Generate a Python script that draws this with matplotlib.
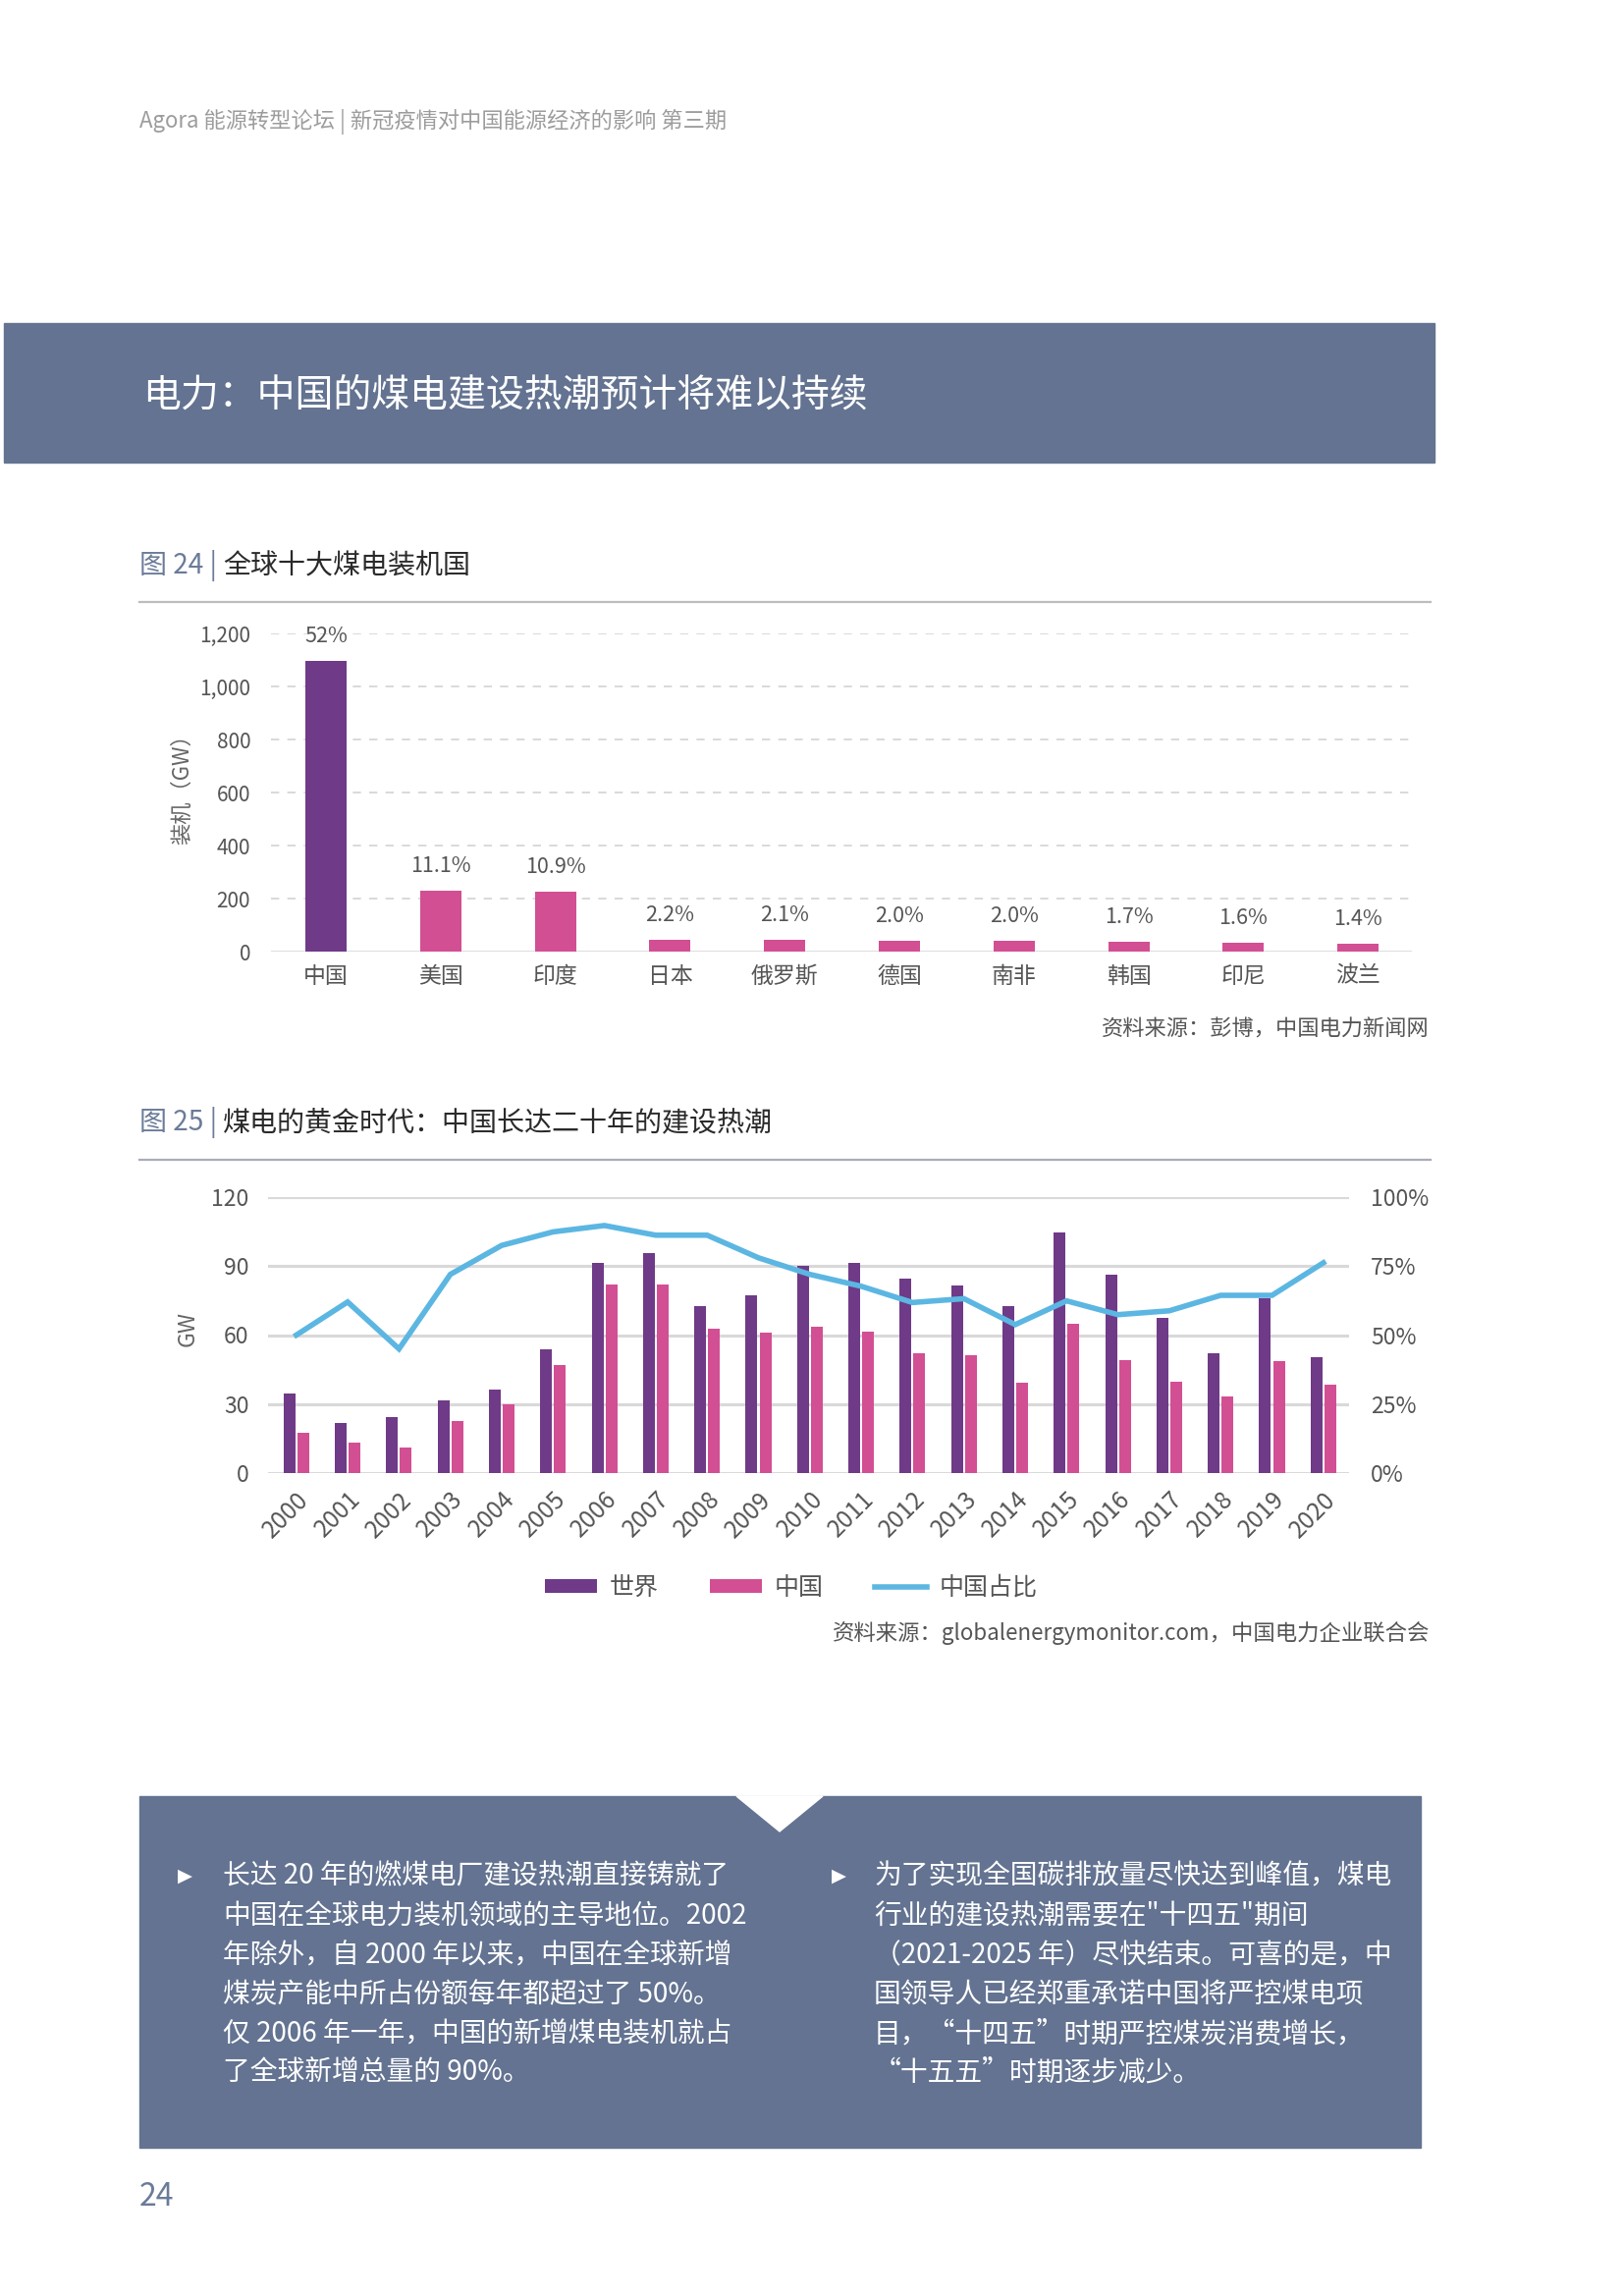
import matplotlib
matplotlib.use("Agg")
import matplotlib.pyplot as plt
import numpy as np
from matplotlib.patches import Rectangle, Polygon, Patch
from matplotlib.lines import Line2D

plt.rcParams['font.family'] = ['Noto Sans CJK SC', 'DejaVu Sans']

# ---- data ----
countries = ["中国", "美国", "印度", "日本", "俄罗斯", "德国", "南非", "韩国", "印尼", "波兰"]
capacity_gw = [1095, 231, 226, 46, 43, 42, 42, 36, 35, 31]
share_labels = ["52%", "11.1%", "10.9%", "2.2%", "2.1%", "2.0%", "2.0%", "1.7%", "1.6%", "1.4%"]

years = [str(y) for y in range(2000, 2021)]
world_gw = [34.5, 21.7, 24.5, 31.5, 36.2, 53.9, 91.5, 95.6, 72.7, 77.5, 89.9,
            91.5, 84.4, 81.5, 72.7, 104.5, 86.2, 67.4, 52.0, 76.2, 50.3]
china_gw = [17.4, 13.3, 11.0, 22.7, 29.9, 46.9, 82.2, 82.2, 62.7, 60.9, 63.8,
            61.6, 52.0, 51.4, 39.2, 65.1, 49.2, 39.6, 33.2, 48.5, 38.5]
china_share = [50, 62, 45, 72, 82.5, 87.4, 89.7, 86.2, 86.2, 78, 72,
               67.7, 61.8, 63.2, 53.8, 62.4, 57.4, 58.8, 64.4, 64.4, 76.2]

left_lines = ["长达 20 年的燃煤电厂建设热潮直接铸就了",
              "中国在全球电力装机领域的主导地位。2002",
              "年除外，自 2000 年以来，中国在全球新增",
              "煤炭产能中所占份额每年都超过了 50%。",
              "仅 2006 年一年，中国的新增煤电装机就占",
              "了全球新增总量的 90%。"]
right_lines = ["为了实现全国碳排放量尽快达到峰值，煤电",
               "行业的建设热潮需要在\"十四五\"期间",
               "（2021-2025 年）尽快结束。可喜的是，中",
               "国领导人已经郑重承诺中国将严控煤电项",
               "目，“十四五”时期严控煤炭消费增长，",
               "“十五五”时期逐步减少。"]

# colours
purple = "#6f3a87"
pink = "#d24f94"
blue = "#5cb6e2"
slate = "#637391"
tick_col = "#555555"

W, H = 1653, 2338
fig = plt.figure(figsize=(W / 100, H / 100), dpi=100)


def fx(x):
    return x / W


def fy(y):
    return 1 - y / H


def rect(x0, y0, x1, y1):
    return [x0 / W, 1 - y1 / H, (x1 - x0) / W, (y1 - y0) / H]


# ---- header and banner ----
fig.text(fx(142), fy(124), "Agora 能源转型论坛 | 新冠疫情对中国能源经济的影响 第三期",
         fontsize=16, color="#9c9c9c", va="center", ha="left")
fig.patches.append(Rectangle((fx(4), fy(471)), fx(1461) - fx(4), fy(329) - fy(471),
                             transform=fig.transFigure, color=slate, zorder=0))
fig.text(fx(145), fy(403), "电力：中国的煤电建设热潮预计将难以持续",
         fontsize=28, color="white", va="center", ha="left")

renderer = fig.canvas.get_renderer()


def chart_title(y, num, rest):
    t1 = fig.text(fx(142), fy(y), f"图 {num} | ", fontsize=20.2, color="#6b7b99",
                  va="center", ha="left")
    bb = t1.get_window_extent(renderer=renderer)
    fig.text(bb.x1 / W, fy(y), rest, fontsize=20.2, color="#2a2a2a", va="center", ha="left")


chart_title(576, 24, "全球十大煤电装机国")
fig.add_artist(Line2D([fx(142), fx(1457)], [fy(613), fy(613)], color="#bdbdbd", lw=1.6))
chart_title(1143, 25, "煤电的黄金时代：中国长达二十年的建设热潮")
fig.add_artist(Line2D([fx(142), fx(1457)], [fy(1181), fy(1181)], color="#a9adb8", lw=1.6))

# ---- chart 1 ----
ax1 = fig.add_axes(rect(276, 645, 1438, 969))
x = np.arange(len(countries))
bar_colors = [purple] + [pink] * (len(countries) - 1)
ax1.bar(x, capacity_gw, width=0.36, color=bar_colors, zorder=3)
for xi, v, lab in zip(x, capacity_gw, share_labels):
    ax1.annotate(lab, (xi, v), xytext=(0, 18), textcoords="offset points",
                 ha="center", va="center", fontsize=15.5, color="#555555",
                 annotation_clip=False)
ax1.set_xlim(-0.48, 9.47)
ax1.set_ylim(0, 1200)
yt = [0, 200, 400, 600, 800, 1000, 1200]
ax1.set_yticks(yt)
ax1.set_yticklabels([f"{v:,}" for v in yt])
for v in yt[1:]:
    ax1.axhline(v, color="#d3d3d3", lw=1.2, ls=(0, (5, 5)), zorder=1)
ax1.axhline(0, color="#d9d9d9", lw=2, zorder=2)
ax1.set_xticks(x)
ax1.set_xticklabels(countries)
ax1.tick_params(axis="y", length=0, pad=15, labelsize=15, labelcolor=tick_col)
ax1.tick_params(axis="x", length=0, pad=10, labelsize=16.5, labelcolor=tick_col)
for s in ax1.spines.values():
    s.set_visible(False)
fig.text(fx(186), fy(798), "装机（GW）", rotation=90, fontsize=16, color="#666666",
         va="center", ha="center")
fig.text(fx(1456), fy(1048), "资料来源：彭博，中国电力新闻网", fontsize=16,
         color="#555555", va="center", ha="right")

# ---- chart 2 ----
ax2 = fig.add_axes(rect(273, 1219, 1374, 1500))
xs = np.arange(len(years))
bw = 0.23
ax2.bar(xs - 0.135, world_gw, width=bw, color=purple, zorder=3)
ax2.bar(xs + 0.135, china_gw, width=bw, color=pink, zorder=3)
ax2.set_xlim(-0.55, 20.5)
ax2.set_ylim(0, 120)
ax2.set_yticks([0, 30, 60, 90, 120])
for v in [0, 30, 60, 90, 120]:
    ax2.axhline(v, color="#d9d9d9", lw=2.2, zorder=1)
ax2.set_xticks(xs)
ax2.set_xticklabels(years, rotation=45, ha="right", rotation_mode="anchor")
ax2.tick_params(axis="y", length=0, pad=14, labelsize=16.5, labelcolor=tick_col)
ax2.tick_params(axis="x", length=0, pad=10, labelsize=17.5, labelcolor=tick_col)
for s in ax2.spines.values():
    s.set_visible(False)

ax3 = ax2.twinx()
ax3.plot(xs, china_share, color=blue, lw=4, zorder=5, solid_joinstyle="miter")
ax3.set_ylim(0, 100)
ax3.set_yticks([0, 25, 50, 75, 100])
ax3.set_yticklabels(["0%", "25%", "50%", "75%", "100%"])
ax3.tick_params(axis="y", length=0, pad=16, labelsize=16.5, labelcolor=tick_col)
for s in ax3.spines.values():
    s.set_visible(False)

fig.text(fx(191), fy(1353), "GW", rotation=90, fontsize=16.5, color="#666666",
         va="center", ha="center")

handles = [Patch(facecolor=purple), Patch(facecolor=pink), Line2D([0], [0], color=blue, lw=4)]
fig.legend(handles, ["世界", "中国", "中国占比"], loc="center", ncol=3,
           bbox_to_anchor=(fx(806), fy(1617)), frameon=False, fontsize=18,
           handlelength=2.1, handleheight=0.48, handletextpad=0.52, columnspacing=2.1,
           labelcolor="#555555")

fig.text(fx(1456), fy(1663), "资料来源：globalenergymonitor.com，中国电力企业联合会",
         fontsize=16.1, color="#555555", va="center", ha="right")

# ---- text box ----
fig.patches.append(Rectangle((fx(142), fy(2187)), fx(1447) - fx(142), fy(1829) - fy(2187),
                             transform=fig.transFigure, color=slate, zorder=0))
fig.patches.append(Polygon([(fx(750), fy(1829)), (fx(838), fy(1829)), (fx(794), fy(1865))],
                           closed=True, transform=fig.transFigure, color="white", zorder=1))

line_y = [1910, 1951, 1991, 2031, 2071, 2111]
for col_x, bullet_x, lines in [(227, 181, left_lines), (890, 847, right_lines)]:
    fig.text(fx(bullet_x), fy(line_y[0]), "▶", fontsize=14, color="white",
             va="center", ha="left", family=["DejaVu Sans"])
    for ly, txt in zip(line_y, lines):
        fig.text(fx(col_x), fy(ly), txt, fontsize=20, color="white", va="center", ha="left")

fig.text(fx(142), fy(2237), "24", fontsize=23, color="#6b7b99", va="center", ha="left")

fig.savefig("out.png", dpi=100)
